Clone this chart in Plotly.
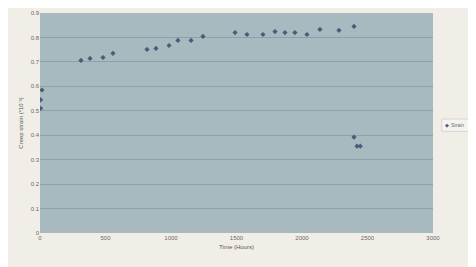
import plotly.graph_objects as go

time_hours = [5, 5, 15, 313, 382, 481, 557, 817, 885, 985, 1053, 1153, 1244,
              1489, 1580, 1702, 1794, 1870, 1946, 2038, 2137, 2282, 2397,
              2397, 2420, 2445]
strain = [0.51, 0.545, 0.585, 0.706, 0.714, 0.718, 0.735, 0.751, 0.755, 0.767,
          0.788, 0.788, 0.804, 0.82, 0.812, 0.812, 0.824, 0.82, 0.82, 0.812,
          0.833, 0.829, 0.845, 0.392, 0.355, 0.355]

x_ticks = [0, 500, 1000, 1500, 2000, 2500, 3000]
y_ticks = [0, 0.1, 0.2, 0.3, 0.4, 0.5, 0.6, 0.7, 0.8, 0.9]
y_tick_labels = ["0", "0.1", "0.2", "0.3", "0.4", "0.5", "0.6", "0.7", "0.8", "0.9"]
series_name = "Strain"
marker_color = "#4d5a78"

fig = go.Figure()
fig.add_trace(go.Scatter(
    x=time_hours, y=strain, mode="markers", name=series_name,
    marker=dict(symbol="diamond", size=4, color=marker_color),
    showlegend=False,
))

# legend box drawn as shape + two annotations
fig.add_shape(type="rect", xref="paper", yref="paper",
              x0=1.022, x1=1.095, y0=0.462, y1=0.518,
              fillcolor="#f5f3ef", line=dict(color="#d6d6d6", width=1))
fig.add_annotation(
    xref="paper", yref="paper", x=1.026, y=0.49, xanchor="left", yanchor="middle",
    text="◆", showarrow=False, font=dict(size=5, color=marker_color),
)
fig.add_annotation(
    xref="paper", yref="paper", x=1.040, y=0.49, xanchor="left", yanchor="middle",
    text=series_name, showarrow=False, font=dict(size=5, color="#6a6a6a"),
)

fig.update_layout(
    width=468, height=259,
    margin=dict(l=32, r=43, t=5, b=34, autoexpand=False),
    paper_bgcolor="#f1ede7",
    plot_bgcolor="#a8bac0",
    font=dict(family="Liberation Sans, Arial, sans-serif", size=6, color="#6a6a6a"),
    showlegend=False,
)
fig.update_xaxes(
    range=[0, 3000], tickvals=x_ticks, ticktext=[str(v) for v in x_ticks],
    showgrid=False, zeroline=False, showline=False,
    title=dict(text="Time (Hours)", font=dict(size=6, color="#5a5a5a"), standoff=4),
    ticks="", ticklen=0,
)
fig.update_yaxes(
    range=[0, 0.9], tickvals=y_ticks, ticktext=y_tick_labels,
    showgrid=True, gridcolor="#8ea1a8", gridwidth=1, zeroline=False, showline=False,
    title=dict(text="Creep strain (*10⁻³)", font=dict(size=6, color="#5a5a5a"), standoff=6),
    ticks="", ticklen=0,
)

fig.write_html("out.html")
